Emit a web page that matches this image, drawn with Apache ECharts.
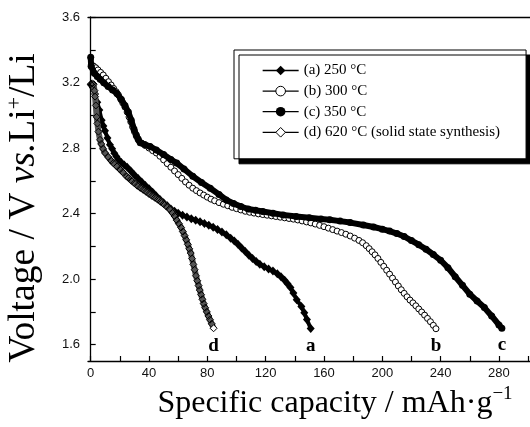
<!DOCTYPE html>
<html>
<head>
<meta charset="utf-8">
<script src="https://cdn.jsdelivr.net/npm/echarts@6/dist/echarts.min.js"></script>
<style>html,body{margin:0;padding:0;background:#fff}#c{width:530px;height:427px}</style>
</head>
<body>
<div id="c"></div>
<script>
// ---- data (x: mAh/g, y: V) ----
const seriesNames = ['(a) 250 °C', '(b) 300 °C', '(c) 350 °C', '(d) 620 °C (solid state synthesis)'];
const endLabels = ['a', 'b', 'c', 'd'];
const xTickLabels = [0, 40, 80, 120, 160, 200, 240, 280];
const xMinorTicks = [0, 20, 40, 60, 80, 100, 120, 140, 160, 180, 200, 220, 240, 260, 280, 300];
const yTickLabels = [1.6, 2.0, 2.4, 2.8, 3.2, 3.6];
const yMinorTicks = [1.6, 1.8, 2.0, 2.2, 2.4, 2.6, 2.8, 3.0, 3.2, 3.4, 3.6];

const curveA = [
  [0.3,3.185],[1.5,3.17],[3,3.13],[4.5,3.08],[5.9,3.033],[7.5,2.97],[8.7,2.935],[9.8,2.905],[11.5,2.862],
  [13.2,2.82],[14.7,2.795],[16.2,2.769],[17.6,2.748],[18.9,2.73],[21,2.712],[23,2.697],[25,2.683],[27.5,2.66],
  [30,2.636],[32.5,2.614],[35,2.593],[37.5,2.572],[40,2.551],[42.5,2.53],[45,2.508],[47.5,2.486],[50,2.466],
  [52.5,2.448],[55,2.428],[57.5,2.414],[60,2.402],[63,2.39],[66,2.379],[69,2.369],[72,2.359],[75,2.35],
  [78,2.34],[81,2.328],[84,2.316],[87,2.302],[90,2.287],[93,2.27],[96,2.25],[98.5,2.232],[101,2.212],
  [103.5,2.19],[106,2.168],[108.5,2.145],[111,2.125],[113.5,2.107],[116,2.09],[119,2.075],[122,2.062],
  [125,2.05],[128,2.032],[130.5,2.015],[133,1.993],[135,1.972],[137,1.948],[139,1.915],[141.3,1.874],
  [144.5,1.833],[146.5,1.795],[148.3,1.753],[150.9,1.698]
];
const curveB = [
  [0.5,3.31],[2,3.30],[3.5,3.29],[5,3.277],[6.8,3.262],[8.6,3.246],[10.4,3.226],[12.2,3.205],[14,3.185],
  [15.7,3.164],[17.4,3.144],[19,3.124],[20.5,3.10],[22,3.075],[23.5,3.05],[25,3.02],[26.3,2.99],[27.5,2.96],
  [28.7,2.93],[30,2.90],[31.5,2.87],[33,2.845],[35,2.83],[37.5,2.815],[40,2.80],[42.5,2.784],[45,2.77],
  [47.5,2.75],[50,2.728],[52.5,2.705],[55,2.683],[57.5,2.66],[60,2.638],[62.5,2.615],[65,2.593],[67.5,2.573],
  [70,2.555],[72.5,2.54],[75,2.526],[77.5,2.513],[80,2.5],[82.5,2.488],[85,2.478],[88,2.467],[91,2.457],
  [94,2.448],[97,2.438],[100,2.43],[103,2.422],[106,2.414],[109,2.408],[112,2.403],[115,2.398],[118,2.394],
  [121,2.39],[124,2.386],[127,2.382],[130,2.378],[133,2.374],[136,2.37],[139,2.366],[142,2.361],[145,2.355],
  [148,2.349],[151,2.343],[154,2.336],[157,2.328],[160,2.32],[163,2.311],[166,2.302],[169,2.293],[172,2.284],
  [175,2.274],[178,2.263],[181,2.25],[184,2.236],[186.5,2.222],[189,2.204],[191,2.186],[193,2.167],[195,2.148],
  [197,2.126],[199,2.102],[201,2.078],[203,2.054],[205,2.03],[207,2.006],[209,1.982],[211,1.958],[213,1.935],
  [215,1.913],[217,1.892],[219,1.872],[221,1.855],[223,1.837],[225,1.818],[227,1.799],[229,1.78],[231,1.76],
  [233,1.74],[235,1.718],[236.8,1.697]
];
const curveC = [
  [0,3.355],[0.3,3.30],[2.5,3.257],[4.5,3.237],[6.5,3.22],[9,3.198],[12,3.175],[15,3.155],[18,3.133],
  [21,3.097],[23.5,3.06],[25.8,3.02],[27.8,2.97],[29.7,2.915],[31.2,2.88],[32.5,2.855],[34,2.833],[37,2.822],
  [40.7,2.81],[45,2.788],[50,2.76],[55,2.73],[59,2.708],[64,2.672],[70,2.628],[76,2.59],[82,2.555],[88,2.517],
  [93,2.483],[98,2.462],[103,2.443],[108,2.428],[113,2.42],[118,2.413],[125,2.402],[132,2.392],[141,2.382],
  [150,2.374],[158,2.367],[164,2.362],[171,2.354],[178,2.345],[187,2.33],[194,2.318],[200,2.305],[205,2.293],
  [210,2.278],[215,2.26],[220,2.235],[225,2.21],[230,2.182],[235,2.15],[240,2.115],[245,2.07],[250,2.015],
  [255,1.962],[260,1.908],[265,1.866],[270,1.826],[275,1.775],[280,1.72],[282,1.70]
];
const curveD = [
  [0,3.19],[1,3.195],[2,3.19],[2.6,3.15],[3,3.114],[3.5,3.06],[4.1,2.99],[4.6,2.95],[5.3,2.9],[6.4,2.85],
  [7.2,2.825],[8.5,2.795],[9.8,2.77],[12,2.745],[14,2.723],[15.5,2.708],[18,2.687],[20,2.67],[22,2.652],
  [24.7,2.626],[26,2.618],[28,2.6],[30,2.585],[32,2.57],[34,2.557],[36,2.545],[38,2.533],[40,2.52],[42,2.508],
  [44,2.497],[46,2.485],[48,2.472],[50,2.458],[52,2.443],[54,2.427],[56,2.405],[57.5,2.385],[59,2.36],
  [60.5,2.338],[62,2.315],[63.2,2.29],[64.4,2.265],[65.5,2.24],[66.6,2.212],[67.6,2.185],[68.6,2.159],
  [69.5,2.125],[70.4,2.09],[71.3,2.057],[72.2,2.02],[73.1,1.99],[74,1.96],[74.8,1.933],[75.7,1.905],
  [76.6,1.877],[77.5,1.85],[78.5,1.825],[79.6,1.8],[80.7,1.775],[81.8,1.752],[83,1.727],[84.3,1.70]
];

// ---- chart ----
const serif = "'Liberation Serif','Times New Roman',serif";
const sans = "'Liberation Sans',Arial,sans-serif";
const endLabelStyle = { show: true, position: 'bottom', distance: 4, fontFamily: serif, fontWeight: 'bold', fontSize: 19, color: '#000' };
function withEndLabel(arr, text) {
  return arr.map((p, i) => i === arr.length - 1 ? { value: p, label: Object.assign({ formatter: text }, endLabelStyle) } : p);
}
const dData = withEndLabel(curveD, endLabels[3]);
dData[dData.length - 1].itemStyle = { color: '#fff' };

const chart = echarts.init(document.getElementById('c'), null, { renderer: 'canvas' });
const axisLineStyle = { color: '#000', width: 1.3 };
const legendLine = { color: '#000', width: 1.3, opacity: 1 };
chart.setOption({
  animation: false,
  backgroundColor: '#fff',
  grid: { left: 88, right: 0, top: 17, bottom: 66, containLabel: false, outerBoundsMode: 'none' },
  legend: {
    orient: 'vertical', left: 234, top: 50,
    padding: [13, 26, 19, 28],
    itemWidth: 36, itemHeight: 12, itemGap: 5.6,
    backgroundColor: '#fff', borderColor: '#000', borderWidth: 1,
    shadowColor: '#000', shadowBlur: 0, shadowOffsetX: 5, shadowOffsetY: 5,
    selectedMode: false,
    textStyle: { fontFamily: serif, fontSize: 15, color: '#000', lineHeight: 15 },
    data: [
      { name: seriesNames[0], itemStyle: { color: '#000' }, lineStyle: legendLine },
      { name: seriesNames[1], itemStyle: { color: '#fff', borderColor: '#000', borderWidth: 1 }, lineStyle: legendLine },
      { name: seriesNames[2], itemStyle: { color: '#000' }, lineStyle: legendLine },
      { name: seriesNames[3], itemStyle: { color: '#fff', borderColor: '#000', borderWidth: 1 }, lineStyle: legendLine }
    ]
  },
  xAxis: [{
    type: 'value', min: -1.85, max: 301.3,
    splitLine: { show: false },
    axisLine: { lineStyle: axisLineStyle },
    axisTick: { inside: true, length: 5, lineStyle: { color: '#000', width: 1.2 }, customValues: xMinorTicks },
    axisLabel: { customValues: xTickLabels, margin: 6, fontFamily: sans, fontSize: 13, color: '#111' },
    name: 'Specific capacity / mAh·g{sup|−1}',
    nameLocation: 'middle', nameGap: 19,
    nameTextStyle: {
      fontFamily: serif, fontSize: 32, color: '#000', lineHeight: 37, padding: [0, 0, 0, 52],
      rich: { sup: { fontFamily: serif, fontSize: 19, lineHeight: 19, verticalAlign: 'top', color: '#000' } }
    }
  }, {
    type: 'value', min: -1.85, max: 301.3, position: 'top',
    splitLine: { show: false }, axisTick: { show: false }, axisLabel: { show: false },
    axisLine: { lineStyle: axisLineStyle }
  }],
  yAxis: {
    type: 'value', min: 1.5, max: 3.6,
    splitLine: { show: false },
    axisLine: { lineStyle: axisLineStyle },
    axisTick: { inside: true, length: 5, lineStyle: { color: '#000', width: 1.2 }, customValues: yMinorTicks },
    axisLabel: { customValues: yTickLabels, margin: 8, fontFamily: sans, fontSize: 13, color: '#111', formatter: v => v.toFixed(1) },
    name: 'Voltage / V {i|vs.}Li{sup|+}/Li',
    nameLocation: 'middle', nameGap: 44,
    nameTextStyle: {
      fontFamily: serif, fontSize: 37.5, color: '#000', lineHeight: 40, padding: [0, 38, 0, 0],
      rich: {
        i: { fontFamily: serif, fontSize: 37.5, fontStyle: 'italic', lineHeight: 40, color: '#000' },
        sup: { fontFamily: serif, fontSize: 22, lineHeight: 22, verticalAlign: 'top', color: '#000' }
      }
    }
  },
  series: [
    {
      name: seriesNames[0], type: 'line', data: withEndLabel(curveA, endLabels[0]),
      symbol: 'diamond', symbolSize: [8, 9], itemStyle: { color: '#000' },
      lineStyle: { color: '#000', width: 4 }, z: 2
    },
    {
      name: seriesNames[1], type: 'line', data: withEndLabel(curveB, endLabels[1]),
      symbol: 'circle', symbolSize: 6,
      itemStyle: { color: '#fff', borderColor: '#000', borderWidth: 1 },
      lineStyle: { opacity: 0 }, z: 3
    },
    {
      name: seriesNames[2], type: 'line', data: withEndLabel(curveC, endLabels[2]),
      symbol: 'circle', symbolSize: 7, itemStyle: { color: '#000' },
      lineStyle: { color: '#000', width: 6 }, z: 4
    },
    {
      name: seriesNames[3], type: 'line', data: dData,
      symbol: 'diamond', symbolSize: 7,
      itemStyle: { color: 'rgba(255,255,255,0)', borderColor: '#000', borderWidth: 1 },
      lineStyle: { color: '#555', width: 6 }, z: 5
    }
  ]
});
</script>
</body>
</html>
